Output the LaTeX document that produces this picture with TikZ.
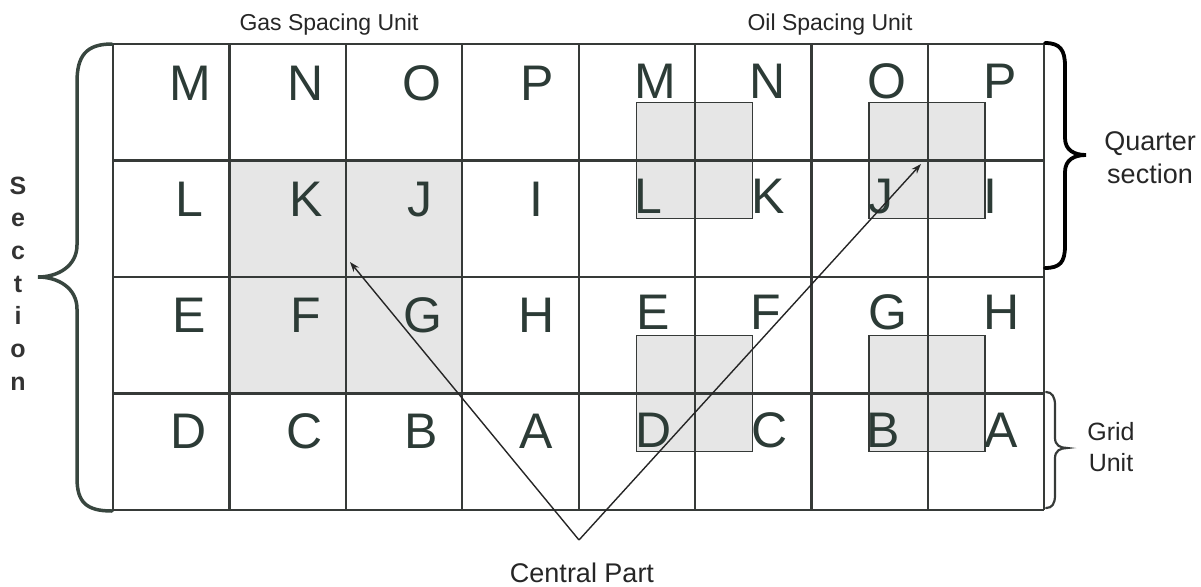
\documentclass[tikz,border=0pt]{standalone}
\usepackage{fontspec}
\setmainfont{Liberation Sans}
\usetikzlibrary{arrows.meta}
\definecolor{gridc}{HTML}{363A38}
\definecolor{letc}{HTML}{2C3B36}
\definecolor{shadec}{HTML}{E6E6E6}
\definecolor{bracec}{HTML}{38463F}
\tikzset{
  gridline/.style={draw=gridc, line width=2.2pt},
  gasbox/.style={fill=shadec},
  shadebox/.style={fill=shadec, draw=gridc, line width=1.9pt},
  letter/.style={text=letc, font=\fontsize{50}{50}\selectfont, inner sep=0pt, anchor=base},
  label/.style={text=black!85, inner sep=0pt, align=center},
  seclet/.style={text=black!80, font=\bfseries\fontsize{25}{25}\selectfont, inner sep=0pt, anchor=base},
  brace/.style={draw=bracec, line width=3.5pt, line cap=round},
  pointer/.style={draw=black!85, line width=1.4pt, -{Stealth[length=10pt,width=7pt]}}
}
\begin{document}
\begin{tikzpicture}[x=1pt,y=-1pt]
\useasboundingbox (0,0) rectangle (1201,586);
% gas spacing unit shading
\path[gasbox] (229.4,160.5) rectangle (462,393.5);
% oil spacing unit squares
\foreach \cx/\cy in {694.5/160.5, 927/160.5, 694.5/393.5, 927/393.5}
  \draw[shadebox] (\cx-58,\cy-58) rectangle (\cx+58,\cy+58);
% grid
\foreach \i in {0,...,8}
  \draw[gridline] ({113+116.4*\i},44) -- ({113+116.4*\i},510);
\foreach \j in {0,...,4}
  \draw[gridline] (113,{44+116.5*\j}) -- (1044.2,{44+116.5*\j});
% gas unit letters
\foreach \l/\x/\y [count=\k] in {M/190/82,N/306/82,O/422/82,P/537/82,
  L/189/198,K/306/198,J/420/198,I/536/198,
  E/189/314,F/306/314,G/423/314,H/537/314,
  D/189/430,C/305/430,B/421/430,A/536/430}
  \node[letter] (g\k) at (\x,\y+18) {\l};
% oil unit letters
\foreach \l/\x/\y [count=\k] in {M/655/80,N/768/80,O/887/80,P/1000/80,
  L/648/195,K/768/195,J/881/195,I/990/195,
  E/653/311,F/766/311,G/888/311,H/1002/311,
  D/654/429,C/770/429,B/883/429,A/1001/429}
  \node[letter] (o\k) at (\x,\y+18) {\l};
% titles
\node[label, font=\fontsize{23}{23}\selectfont] (gas) at (329,25) {Gas Spacing Unit};
\node[label, font=\fontsize{23}{23}\selectfont] (oil) at (830,25) {Oil Spacing Unit};
\node[label, font=\fontsize{27}{33}\selectfont] (qs) at (1150,158) {Quarter\\section};
\node[label, font=\fontsize{25}{31}\selectfont] (gu) at (1111,447) {Grid\\Unit};
\node[label, font=\fontsize{27}{27}\selectfont] (cp) at (582,573) {Central Part};
% Section letters
\foreach \l [count=\i] in {S,e,c,t,i,o,n}
  \node[seclet] (s\i) at (18,{194+32.7*(\i-1)}) {\l};
% braces
\draw[brace] (112,44) .. controls (86,44) and (77,56) .. (77,82) -- (77,245)
  .. controls (77,266) and (58,277) .. (38,277)
  .. controls (58,277) and (77,288) .. (77,309) -- (77,478)
  .. controls (77,502) and (86,511) .. (112,511);
\draw[brace, draw=black, line width=3.8pt] (1045,43) .. controls (1060,43) and (1065,50) .. (1065,66) -- (1065,138)
  .. controls (1065,150) and (1074,155) .. (1086,155)
  .. controls (1074,155) and (1065,160) .. (1065,172) -- (1065,246)
  .. controls (1065,262) and (1060,268) .. (1045,268);
\draw[brace, draw=gridc, line width=2.2pt] (1046,392) .. controls (1052,392) and (1055,397) .. (1055,405) -- (1055,438)
  .. controls (1055,445) and (1060,448) .. (1067,448)
  .. controls (1060,448) and (1055,451) .. (1055,458) -- (1055,495)
  .. controls (1055,504) and (1052,508) .. (1046,508);
% central part pointers
\coordinate (apex) at (579,540);
\coordinate (tipgas) at (350,262);
\coordinate (tipoil) at (921,164);
\draw[pointer] (apex) -- (tipgas);
\draw[pointer] (apex) -- (tipoil);
\end{tikzpicture}
\end{document}
